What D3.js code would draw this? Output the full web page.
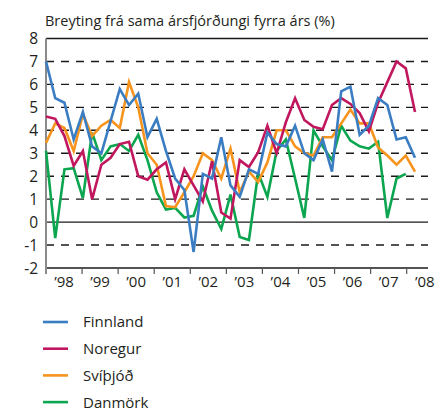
<!DOCTYPE html>
<html>
<head>
<meta charset="utf-8">
<script src="https://cdn.jsdelivr.net/npm/d3@7/dist/d3.min.js"></script>
<style>
    body { margin: 0; background: #fff; }
    svg text { font-family: 'Open Sans', sans-serif; fill: #231f20; }
</style>
</head>
<body>
<svg id="chart" width="445" height="410"></svg>
<script>
// quarterly data, 1998 Q1 .. 2008 Q1
const years = [1998, 1999, 2000, 2001, 2002, 2003, 2004, 2005, 2006, 2007, 2008];
const yearLabels = ['’98', '’99', '’00', '’01', '’02', '’03', '’04', '’05', '’06', '’07', '’08'];
const yTicks = [-2, -1, 0, 1, 2, 3, 4, 5, 6, 7, 8];

const finnland = [7.0, 5.4, 5.2, 3.6, 4.8, 3.3, 3.0, 4.4, 5.8, 5.1, 5.6, 3.7, 4.5, 3.1, 1.9, 1.4, -1.3, 2.1, 1.9, 3.7,
    1.6, 1.1, 2.3, 2.1, 3.9, 3.4, 3.3, 4.2, 3.0, 2.7, 3.6, 2.2, 5.7, 5.9, 3.8, 4.2, 5.4, 5.1, 3.6, 3.7, 2.8];
const noregur = [4.6, 4.5, 3.75, 2.45, 3.1, 1.0, 2.5, 2.8, 3.4, 3.5, 2.0, 1.85, 2.3, 2.6, 1.0, 2.3, 1.6, 0.9, 2.65, 0.42,
    0.15, 2.7, 2.4, 3.05, 4.2, 3.0, 4.35, 5.4, 4.45, 4.15, 4.05, 5.1, 5.4, 5.15, 4.75, 3.95, 5.2, 6.1, 7.0, 6.7, 4.8];
const svithjod = [3.45, 4.3, 4.1, 3.1, 4.7, 3.75, 4.2, 4.45, 4.1, 6.1, 5.0, 3.0, 2.5, 0.7, 0.65, 1.3, 2.0, 3.0, 2.7, 1.9,
    3.2, 1.3, 2.2, 1.75, 2.6, 4.0, 4.0, 3.3, 3.0, 2.9, 3.7, 3.7, 4.3, 4.9, 4.3, 4.3, 3.25, 2.9, 2.5, 2.9, 2.2];
const danmork = [3.1, -0.7, 2.3, 2.35, 1.05, 3.9, 2.7, 3.3, 3.4, 3.1, 3.8, 2.7, 1.3, 0.55, 0.62, 0.2, 0.27, 1.55, 0.5, -0.3,
    1.2, -0.65, -0.78, 2.15, 1.1, 3.1, 3.6, 1.9, 0.18, 4.0, 3.3, 2.7, 4.2, 3.55, 3.3, 3.2, 3.5, 0.18, 1.9, 2.1];

const seriesNames = ['Finnland', 'Noregur', 'Svíþjóð', 'Danmörk'];
const seriesValues = [finnland, noregur, svithjod, danmork];
const seriesColors = ['#3b7dc3', '#c0175e', '#f7941d', '#0ba64f'];

const plotLeft = 46;
const plotRight = 428;
const plotTop = 38.5;
const plotBottom = 268;

const svg = d3.select('#chart');

const x = d3.scaleLinear().domain([0, 40]).range([plotLeft, 415]);
const xYear = d3.scaleLinear().domain([1998, 2008]).range([plotLeft, 406.7]);
const y = d3.scaleLinear().domain([-2, 8]).range([plotBottom, plotTop]);

// title
svg.append('text')
    .attr('x', 45)
    .attr('y', 26)
    .attr('font-size', 14.5)
    .text('Breyting frá sama ársfjórðungi fyrra árs (%)');

// gridlines
const grid = svg.append('g');
grid.selectAll('line')
    .data(yTicks)
    .enter()
    .append('line')
    .attr('x1', plotLeft)
    .attr('x2', plotRight)
    .attr('y1', d => y(d))
    .attr('y2', d => y(d))
    .attr('stroke', '#1a1a1a')
    .attr('stroke-width', 1.4)
    .attr('stroke-dasharray', d => (d === 0 || d === -2 || d === 8) ? null : '8,7');

// y labels
svg.append('g')
    .selectAll('text')
    .data(yTicks)
    .enter()
    .append('text')
    .attr('x', 38)
    .attr('y', d => y(d))
    .attr('dy', '0.36em')
    .attr('text-anchor', 'end')
    .attr('font-size', 15.5)
    .text(d => d);

// x ticks and labels
const xAxis = svg.append('g');
xAxis.selectAll('line')
    .data(years)
    .enter()
    .append('line')
    .attr('x1', d => xYear(d))
    .attr('x2', d => xYear(d))
    .attr('y1', plotBottom)
    .attr('y2', plotBottom + 6)
    .attr('stroke', '#555')
    .attr('stroke-width', 1.2);

xAxis.selectAll('text')
    .data(years)
    .enter()
    .append('text')
    .attr('x', d => xYear(d + 0.5))
    .attr('y', 287)
    .attr('text-anchor', 'middle')
    .attr('font-size', 15)
    .text((d, i) => yearLabels[i]);

// left axis
svg.append('line')
    .attr('x1', plotLeft)
    .attr('x2', plotLeft)
    .attr('y1', plotTop)
    .attr('y2', plotBottom + 6)
    .attr('stroke', '#8a8a8a')
    .attr('stroke-width', 2);

// series lines, Finnland drawn last so it sits on top
const line = d3.line()
    .x((d, i) => x(i))
    .y(d => y(d));

const lines = svg.append('g');
[3, 2, 1, 0].forEach(k => {
    lines.append('path')
        .datum(seriesValues[k])
        .attr('d', line)
        .attr('fill', 'none')
        .attr('stroke', seriesColors[k])
        .attr('stroke-width', 2.6)
        .attr('stroke-linejoin', 'miter');
});

// legend
const legend = svg.append('g');
seriesNames.forEach((name, i) => {
    const ly = 322 + i * 26.7;
    legend.append('line')
        .attr('x1', 43)
        .attr('x2', 68)
        .attr('y1', ly)
        .attr('y2', ly)
        .attr('stroke', seriesColors[i])
        .attr('stroke-width', 2.6);
    legend.append('text')
        .attr('x', 83)
        .attr('y', ly)
        .attr('dy', '0.36em')
        .attr('font-size', 15)
        .text(name);
});
</script>
</body>
</html>
